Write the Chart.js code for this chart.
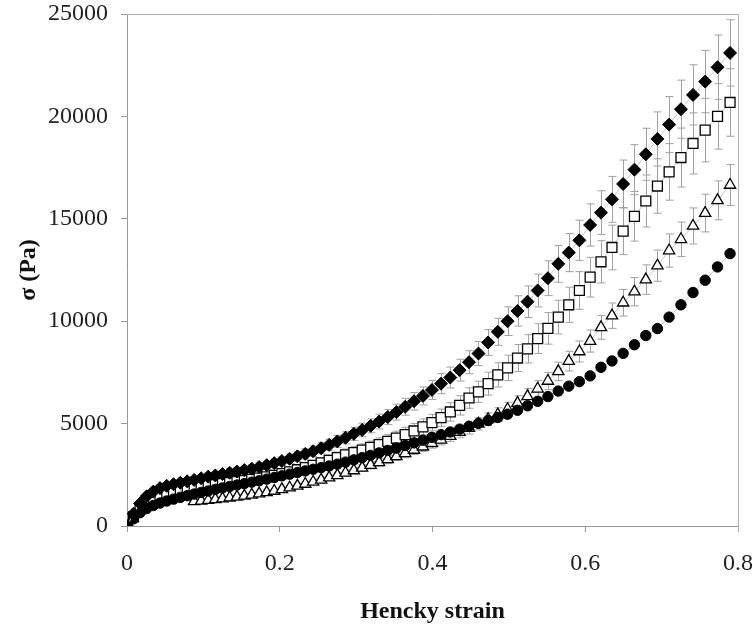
<!DOCTYPE html>
<html>
<head>
<meta charset="utf-8">
<script src="https://cdn.jsdelivr.net/npm/chart.js@4.4.0/dist/chart.umd.min.js"></script>
<style>
  html, body { margin: 0; padding: 0; background: #fff; }
</style>
</head>
<body>
<canvas id="stressChart" width="753" height="626"></canvas>
<script>
// Hencky strain of every sample (shared by the four series)
const strain = [0, 0.0085, 0.0171, 0.0257, 0.0344, 0.0432, 0.052, 0.0609, 0.0698, 0.0788,
  0.0879, 0.0971, 0.1063, 0.1156, 0.125, 0.1344, 0.144, 0.1536, 0.1633, 0.173,
  0.1829, 0.1928, 0.2028, 0.2129, 0.2231, 0.2334, 0.2437, 0.2542, 0.2647, 0.2754,
  0.2861, 0.297, 0.3079, 0.319, 0.3301, 0.3414, 0.3527, 0.3642, 0.3758, 0.3875,
  0.3993, 0.4112, 0.4233, 0.4355, 0.4478, 0.4602, 0.4728, 0.4855, 0.4983, 0.5113,
  0.5244, 0.5377, 0.5511, 0.5647, 0.5784, 0.5923, 0.6064, 0.6206, 0.635, 0.6496,
  0.6644, 0.6793, 0.6945, 0.7098, 0.7253, 0.7411, 0.757, 0.7732, 0.7896];

// stress (Pa)
const diamondStress = [0, 600, 1100, 1450, 1680, 1850, 1960, 2040, 2110, 2180,
  2250, 2330, 2410, 2470, 2540, 2600, 2660, 2730, 2800, 2880,
  2970, 3070, 3170, 3280, 3400, 3520, 3650, 3800, 3960, 4130,
  4310, 4500, 4690, 4890, 5100, 5320, 5560, 5820, 6090, 6350,
  6640, 6950, 7250, 7610, 8000, 8420, 8960, 9480, 10000, 10500,
  10950, 11500, 12100, 12800, 13350, 13950, 14700, 15300, 15950, 16700,
  17400, 18150, 18900, 19600, 20350, 21050, 21700, 22400, 23100];
const squareStress = [0, 450, 850, 1150, 1350, 1500, 1600, 1680, 1750, 1810,
  1870, 1920, 1970, 2020, 2070, 2120, 2170, 2220, 2280, 2340,
  2400, 2470, 2560, 2650, 2750, 2850, 2960, 3080, 3210, 3340,
  3480, 3590, 3710, 3840, 3980, 4130, 4290, 4460, 4640, 4840,
  5050, 5290, 5570, 5890, 6250, 6550, 6950, 7380, 7720, 8200,
  8650, 9150, 9650, 10200, 10800, 11500, 12150, 12900, 13600, 14400,
  15120, 15870, 16600, 17290, 17990, 18680, 19330, 20000, 20680];
const triangleStress = [null, null, null, null, null, null, null, null, null, null,
  1200, 1230, 1260, 1300, 1340, 1380, 1420, 1470, 1520, 1580,
  1640, 1710, 1790, 1870, 1960, 2050, 2150, 2250, 2360, 2470,
  2590, 2710, 2840, 2970, 3110, 3250, 3400, 3550, 3710, 3870,
  4040, 4210, 4390, 4580, 4780, 4990, 5210, 5440, 5700, 6000,
  6330, 6700, 7080, 7550, 8050, 8520, 9030, 9700, 10270, 10900,
  11440, 12030, 12710, 13450, 14000, 14650, 15280, 15900, 16650];
const circleStress = [0, 350, 650, 850, 1000, 1120, 1220, 1310, 1400, 1480,
  1560, 1640, 1710, 1790, 1860, 1930, 2000, 2070, 2140, 2210,
  2290, 2370, 2450, 2530, 2610, 2690, 2770, 2850, 2930, 3020,
  3120, 3230, 3340, 3450, 3570, 3690, 3810, 3930, 4060, 4190,
  4330, 4460, 4590, 4730, 4870, 5010, 5150, 5300, 5460, 5650,
  5870, 6090, 6320, 6590, 6830, 7050, 7330, 7750, 8060, 8430,
  8850, 9300, 9640, 10200, 10800, 11400, 12000, 12650, 13300];

// error bar half heights (Pa)
const diamondErr = [0, 40, 80, 100, 120, 130, 140, 140, 150, 150,
  160, 160, 170, 170, 180, 180, 190, 190, 200, 200,
  210, 210, 220, 230, 240, 250, 260, 270, 280, 290,
  300, 320, 330, 340, 360, 370, 390, 410, 430, 440,
  460, 490, 510, 530, 560, 590, 630, 660, 700, 740,
  770, 800, 850, 900, 930, 980, 1030, 1070, 1120, 1170,
  1220, 1270, 1320, 1370, 1420, 1470, 1520, 1570, 1620];
const squareErr = [0, 40, 70, 90, 110, 120, 130, 130, 140, 140,
  150, 150, 160, 160, 170, 170, 170, 180, 180, 190,
  190, 200, 200, 210, 220, 230, 240, 250, 260, 270,
  280, 290, 300, 310, 320, 330, 340, 360, 370, 390,
  400, 420, 450, 470, 500, 520, 560, 590, 620, 660,
  690, 730, 770, 820, 860, 920, 970, 1030, 1090, 1150,
  1210, 1270, 1330, 1380, 1440, 1490, 1550, 1600, 1650];
const triangleErr = [null, null, null, null, null, null, null, null, null, null,
  70, 70, 80, 80, 80, 80, 90, 90, 90, 100,
  100, 100, 110, 110, 120, 120, 130, 140, 140, 150,
  160, 160, 170, 180, 190, 200, 200, 210, 220, 230,
  240, 250, 260, 270, 290, 300, 310, 330, 340, 360,
  380, 400, 420, 450, 480, 510, 540, 580, 620, 650,
  690, 720, 760, 810, 840, 880, 920, 950, 1000];

const xTicks = [0, 0.2, 0.4, 0.6, 0.8];
const yTicks = [0, 5000, 10000, 15000, 20000, 25000];

function toPoints(values) {
    let pts = [];
    strain.forEach((x, i) => {
        pts.push({ x: x, y: values[i] });
    });
    return pts;
}

const serif = "'Liberation Serif', 'Times New Roman', serif";

// light grey frame on top / right and the error bars
const framePlugin = {
    id: 'frameAndErrors',
    beforeDatasetsDraw(chart) {
        const ctx = chart.ctx;
        const area = chart.chartArea;
        const xs = chart.scales.x;
        const ys = chart.scales.y;
        ctx.save();
        ctx.strokeStyle = '#b0b0b0';
        ctx.lineWidth = 1;
        ctx.beginPath();
        ctx.moveTo(area.left, area.top + 0.5);
        ctx.lineTo(area.right + 0.5, area.top + 0.5);
        ctx.lineTo(area.right + 0.5, area.bottom + 6);
        ctx.stroke();

        ctx.strokeStyle = '#a0a0a0';
        chart.data.datasets.forEach(ds => {
            if (!ds.errors) return;
            ds.data.forEach((pt, i) => {
                const e = ds.errors[i];
                if (pt.y == null || !e) return;
                const px = Math.round(xs.getPixelForValue(pt.x)) + 0.5;
                const top = ys.getPixelForValue(pt.y + e);
                const bot = ys.getPixelForValue(pt.y - e);
                ctx.beginPath();
                ctx.moveTo(px, top);
                ctx.lineTo(px, bot);
                ctx.moveTo(px - 4, top);
                ctx.lineTo(px + 4, top);
                ctx.moveTo(px - 4, bot);
                ctx.lineTo(px + 4, bot);
                ctx.stroke();
            });
        });
        ctx.restore();
    }
};

const lineGrey = '#c4c4c4';

let ctx = document.getElementById('stressChart').getContext('2d');
let stressChart = new Chart(ctx, {
    type: 'scatter',
    data: {
        // first dataset is painted last (on top)
        datasets: [{
            label: 'diamonds',
            data: toPoints(diamondStress),
            errors: diamondErr,
            showLine: true,
            borderColor: lineGrey,
            borderWidth: 1,
            pointStyle: 'rectRot',
            pointRadius: 6.5,
            pointBackgroundColor: '#000',
            pointBorderColor: '#000',
            pointBorderWidth: 1
        }, {
            label: 'circles',
            data: toPoints(circleStress),
            showLine: true,
            borderColor: lineGrey,
            borderWidth: 1,
            pointStyle: 'circle',
            pointRadius: 5.2,
            pointBackgroundColor: '#000',
            pointBorderColor: '#000',
            pointBorderWidth: 1
        }, {
            label: 'triangles',
            data: toPoints(triangleStress),
            errors: triangleErr,
            showLine: true,
            borderColor: lineGrey,
            borderWidth: 1,
            pointStyle: 'triangle',
            pointRadius: 6.5,
            pointBackgroundColor: '#fff',
            pointBorderColor: '#000',
            pointBorderWidth: 1.3
        }, {
            label: 'squares',
            data: toPoints(squareStress),
            errors: squareErr,
            showLine: true,
            borderColor: lineGrey,
            borderWidth: 1,
            pointStyle: 'rect',
            pointRadius: 7,
            pointBackgroundColor: '#fff',
            pointBorderColor: '#000',
            pointBorderWidth: 1.3
        }]
    },
    options: {
        responsive: false,
        animation: false,
        events: [],
        layout: { padding: { left: 0, right: 15, top: 14, bottom: 0 } },
        plugins: {
            legend: { display: false },
            tooltip: { enabled: false }
        },
        scales: {
            x: {
                type: 'linear',
                min: 0,
                max: 0.8,
                afterFit: scale => {
                    scale.height = 100;
                    scale.paddingLeft = 0;
                    scale.paddingRight = 0;
                },
                afterBuildTicks: scale => { scale.ticks = xTicks.map(v => ({ value: v })); },
                ticks: {
                    color: '#222',
                    font: { family: serif, size: 24 },
                    padding: 17,
                    maxRotation: 0,
                    callback: v => String(Math.round(v * 10) / 10)
                },
                grid: { drawOnChartArea: false, color: '#999', tickLength: 6 },
                border: { color: '#999' },
                title: {
                    display: true,
                    text: 'Hencky strain',
                    color: '#111',
                    font: { family: serif, size: 24, weight: 'bold' },
                    padding: { top: 0, bottom: 0 }
                }
            },
            y: {
                min: 0,
                max: 25000,
                afterFit: scale => {
                    scale.width = 127;
                    scale.paddingTop = 0;
                    scale.paddingBottom = 0;
                },
                afterBuildTicks: scale => { scale.ticks = yTicks.map(v => ({ value: v })); },
                ticks: {
                    color: '#222',
                    font: { family: serif, size: 24 },
                    padding: 13,
                    callback: v => String(v)
                },
                grid: { drawOnChartArea: false, color: '#999', tickLength: 6 },
                border: { color: '#999' },
                title: {
                    display: true,
                    text: 'σ (Pa)',
                    color: '#111',
                    font: { family: serif, size: 24, weight: 'bold' },
                    padding: { top: 14, bottom: 0 }
                }
            }
        }
    },
    plugins: [framePlugin]
});
</script>
</body>
</html>
